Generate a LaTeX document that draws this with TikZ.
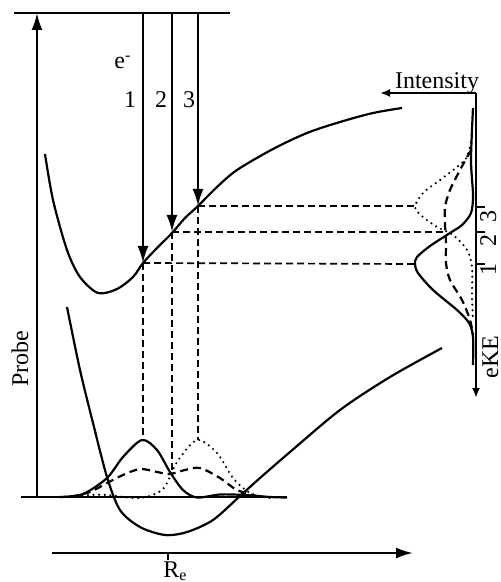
\documentclass[tikz,border=0pt]{standalone}
\usepackage{fontspec}
\setmainfont{Liberation Serif}
\usetikzlibrary{arrows.meta}

\begin{document}
\begin{tikzpicture}[x=0.5pt,y=-0.5pt,
        curve/.style={line width=1.1pt},
        guide/.style={line width=0.85pt, dash pattern=on 3.5pt off 2pt},
        dashcurve/.style={line width=1.1pt, dash pattern=on 4pt off 2.5pt},
        dotcurve/.style={line width=1.2pt, dash pattern=on 0pt off 2.8pt, line cap=round},
        axis/.style={line width=1.1pt},
        probe/.style={line width=1.1pt, -{Latex[length=8.5pt,width=5.5pt]}},
        smallarrow/.style={line width=1.1pt, -{Latex[length=5pt,width=4pt]}},
        lbl/.style={font=\fontsize{12}{14}\selectfont, inner sep=0pt},
        num/.style={font=\fontsize{12}{14}\selectfont, inner sep=0pt},
        ticknum/.style={font=\fontsize{12}{14}\selectfont, inner sep=0pt, rotate=90, anchor=base}
    ]
    \useasboundingbox (0,0) rectangle (501,582);

    % levels and axes
    \coordinate (top L) at (14,13);
    \coordinate (top R) at (230,13);
    \coordinate (base L) at (21,497);
    \coordinate (base R) at (287,497);
    \coordinate (probe0) at (37,497);
    \coordinate (probe1) at (37,13);
    \coordinate (r0) at (52,553);
    \coordinate (r1) at (413,553);
    \coordinate (re) at (168,553);

    % points on the upper curve, wave packets, spectrum
    \coordinate (v1) at (143,263);
    \coordinate (v2) at (172,232);
    \coordinate (v3) at (198,206);
    \coordinate (t1) at (143,13);
    \coordinate (t2) at (172,13);
    \coordinate (t3) at (198,13);
    \coordinate (w1) at (143,440);
    \coordinate (w2) at (172,472);
    \coordinate (w3) at (198,440);
    \coordinate (s1) at (415,264);
    \coordinate (s2) at (443,232);
    \coordinate (s3) at (415,206);
    \coordinate (sp0) at (476,93);
    \coordinate (sp1) at (476,398);
    \coordinate (int) at (380,93);
    \coordinate (k1) at (476,264);
    \coordinate (k2) at (476,232);
    \coordinate (k3) at (476,207);

    \draw[axis] (top L) -- (top R);
    \draw[axis] (base L) -- (base R);
    \draw[probe] (probe0) -- (probe1);
    \draw[probe] (r0) -- (r1);
    \draw[axis] (re) -- ++(0,7);

    % potential curves
    \draw[curve] plot[smooth] coordinates {(45,154) (53,200) (67,250) (80,277) (98,293)
        (117,289) (133,277) (143,263) (157,248) (172,233) (185,218) (198,206) (217,187)
        (237,170) (273,149) (307,133) (340,122) (373,113) (402,108)};
    \draw[curve] plot[smooth] coordinates {(67,307) (80,370) (93,423) (107,477) (120,510)
        (140,527) (165,535) (187,532) (213,520) (240,496) (260,478) (290,452) (340,410)
        (390,377) (442,348)};

    % ground state wave packets
    \draw[curve] plot[smooth] coordinates {(60,497) (83,494) (107,478) (123,457) (142,440)
        (157,450) (170,472) (183,490) (197,497.5) (220,494.5) (245,495) (270,497) (287,497.5)};
    \draw[dashcurve] plot[smooth] coordinates {(70,497) (90,492) (107,483) (123,475) (140,469)
        (157,472) (170,474) (185,470) (200,468) (220,478) (237,490) (260,497)};
    \draw[dotcurve] plot[smooth] coordinates {(60,497) (90,495) (107,495) (140,498) (163,489)
        (177,462) (197,440) (217,453) (233,478) (250,493) (270,498)};

    % probe transitions
    \draw[probe] (t1) -- (v1);
    \draw[probe] (t2) -- (v2);
    \draw[probe] (t3) -- (v3);
    \node[num, anchor=base west] (elec) at (114,69) {e\textsuperscript{-}};
    \node[num, anchor=base] (n1) at (130,108) {1};
    \node[num, anchor=base] (n2) at (161,108) {2};
    \node[num, anchor=base] (n3) at (189,108) {3};

    % projections
    \draw[guide] (v1) -- (w1);
    \draw[guide] (v2) -- (w2);
    \draw[guide] (v3) -- (w3);
    \draw[guide] (v1) -- (s1);
    \draw[guide] (v2) -- (s2);
    \draw[guide] (v3) -- (s3);

    % photoelectron spectrum
    \draw[smallarrow] (sp0) -- (sp1);
    \draw[smallarrow] (sp0) -- (int);
    \draw[axis] (k1) -- ++(9,0);
    \draw[axis] (k2) -- ++(9,0);
    \draw[axis] (k3) -- ++(9,0);
    \draw[curve] plot[smooth] coordinates {(473,108) (471,160) (473,195) (471,213) (462,225)
        (450,233) (430,246) (417,257) (415,264) (418,273) (433,290) (457,310) (469,323)
        (473,337) (473,365)};
    \draw[dashcurve] plot[smooth] coordinates {(471,150) (460,170) (450,190) (445,207) (445,225)
        (446,243) (446,263) (450,280) (462,300) (470,320) (473,335)};
    \draw[dotcurve] plot[smooth] coordinates {(472,137) (467,157) (457,167) (440,180) (423,193)
        (415,207) (423,217) (437,227) (453,235) (467,250) (472,267) (472,297) (473,320)};

    \node[ticknum] (m3) at (496,217) {3};
    \node[ticknum] (m2) at (496,241) {2};
    \node[ticknum] (m1) at (496,270) {1};

    % labels
    \node[lbl, anchor=base] (intensity) at (437,89) {Intensity};
    \node[lbl, rotate=90, anchor=base] (probelbl) at (28,359) {Probe};
    \node[lbl, rotate=90, anchor=base] (eke) at (498,357) {eKE};
    \node[lbl, anchor=base west] (relbl) at (163,577) {R\textsubscript{e}};
\end{tikzpicture}
\end{document}
